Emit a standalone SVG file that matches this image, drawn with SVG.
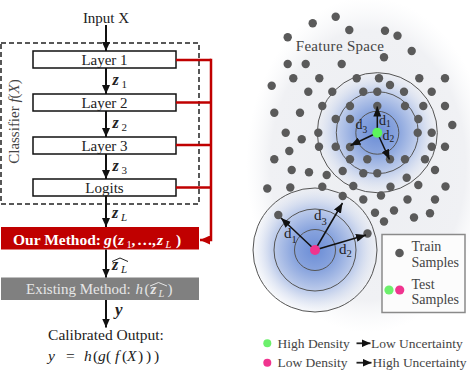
<svg xmlns="http://www.w3.org/2000/svg" width="470" height="372" viewBox="0 0 470 372">
<defs>
<style>
.t{font-family:"Liberation Serif","Times New Roman",serif;fill:#222}
.g{font-family:"Liberation Serif","Times New Roman",serif;fill:#444}
.box{fill:#fff;stroke:#111;stroke-width:1.5}
.flow{stroke:#111;stroke-width:2;fill:none}
.red{stroke:#c00000;stroke-width:2.5;fill:none}
.dist{stroke:#111;stroke-width:1.5;fill:none}
.ring{fill:none;stroke:#555;stroke-width:1}
.dot{fill:#5a5a5a}
.bz{font-weight:bold;font-style:italic}
</style>
<marker id="ah" markerUnits="userSpaceOnUse" markerWidth="9" markerHeight="8" refX="9" refY="4" orient="auto"><path d="M0,0 L9,4 L0,8 z" fill="#111"/></marker>
<marker id="ahr" markerUnits="userSpaceOnUse" markerWidth="10" markerHeight="9" refX="10" refY="4.5" orient="auto"><path d="M0,0 L10,4.5 L0,9 z" fill="#c00000"/></marker>
<marker id="ahd" markerUnits="userSpaceOnUse" markerWidth="10" markerHeight="8" refX="10" refY="4" orient="auto"><path d="M0,0 L10,4 L0,8 z" fill="#111"/></marker>
<radialGradient id="fs" cx="0.5" cy="0.5" r="0.5">
<stop offset="0" stop-color="#eceef2"/>
<stop offset="0.8" stop-color="#f0f1f4"/>
<stop offset="1" stop-color="#f6f7f9" stop-opacity="0"/>
</radialGradient>
<radialGradient id="glow" cx="0.5" cy="0.5" r="0.5">
<stop offset="0" stop-color="#6b8dd6"/>
<stop offset="0.35" stop-color="#8aa5de"/>
<stop offset="0.7" stop-color="#c3d0ec"/>
<stop offset="1" stop-color="#e6eaf3" stop-opacity="0.3"/>
</radialGradient>
</defs>
<rect width="470" height="372" fill="#fff"/>

<g id="input"><text class="t" x="106" y="22.5" font-size="15" text-anchor="middle">Input X</text></g>
<g id="classifier">
<rect x="1" y="43" width="198" height="161" fill="none" stroke="#222" stroke-width="1.5" stroke-dasharray="5 3"/>
<text class="g" font-size="15" text-anchor="middle" transform="translate(18.5,121.5) rotate(-90)" fill="#555">Classifier <tspan font-style="italic">f</tspan>(<tspan font-style="italic">X</tspan>)</text>
</g>
<g id="layer1"><rect class="box" x="33" y="51" width="143" height="17"/><text class="t" x="104.5" y="64.5" font-size="15" text-anchor="middle">Layer 1</text></g>
<g id="layer2"><rect class="box" x="33" y="94" width="143" height="17"/><text class="t" x="104.5" y="107.5" font-size="15" text-anchor="middle">Layer 2</text></g>
<g id="layer3"><rect class="box" x="33" y="137" width="143" height="17"/><text class="t" x="104.5" y="150.5" font-size="15" text-anchor="middle">Layer 3</text></g>
<g id="logits"><rect class="box" x="33" y="179" width="143" height="17"/><text class="t" x="104.5" y="192.5" font-size="15" text-anchor="middle">Logits</text></g>
<g id="our-method"><rect x="1" y="227" width="198" height="22.5" fill="#c00000"/>
<text font-family="Liberation Serif,Times New Roman,serif" font-size="15.5" fill="#fff" y="244.5"><tspan x="13" font-weight="bold">Our Method:</tspan><tspan x="104" class="bz">g</tspan><tspan x="112.5" font-weight="bold">(</tspan><tspan x="118" class="bz">z</tspan><tspan x="126.5" dy="3" font-size="10.5">1</tspan><tspan x="131.5" dy="-3" font-weight="bold">,</tspan><tspan x="137" font-weight="bold">…</tspan><tspan x="152" font-weight="bold">,</tspan><tspan x="157" class="bz">z</tspan><tspan x="165.5" dy="3" font-size="10.5" font-style="italic">L</tspan><tspan x="176" dy="-3" font-weight="bold">)</tspan></text>
</g>
<g id="existing-method"><rect x="1" y="277.5" width="198" height="22.5" fill="#808080"/>
<text font-family="Liberation Serif,Times New Roman,serif" font-size="15" fill="#e6e6e6" y="293.5"><tspan x="26">Existing Method:</tspan><tspan x="135.5" font-style="italic">h</tspan><tspan x="144.5">(</tspan><tspan x="150.5" class="bz">z</tspan><tspan x="158.5" dy="3" font-size="10.5" font-style="italic">L</tspan><tspan x="167.5" dy="-3">)</tspan></text>
<polyline points="150,286 158.5,282.5 167,286" fill="none" stroke="#e6e6e6" stroke-width="1"/>
</g>
<g id="output">
<text class="t" x="106" y="340" font-size="15.5" text-anchor="middle">Calibrated Output:</text>
<text class="t" font-size="15.5" y="361"><tspan x="48" font-style="italic">y</tspan><tspan x="66">=</tspan><tspan x="84" font-style="italic">h</tspan><tspan x="93">(</tspan><tspan x="98" font-style="italic">g</tspan><tspan x="106">(</tspan><tspan x="115" font-style="italic">f</tspan><tspan x="122">(</tspan><tspan x="127" font-style="italic">X</tspan><tspan x="138">)</tspan><tspan x="146">)</tspan><tspan x="154">)</tspan></text>
</g>

<g id="connectors">
<line class="flow" x1="106" y1="25" x2="106" y2="51" marker-end="url(#ah)"/>
<line class="flow" x1="106" y1="68" x2="106" y2="94" marker-end="url(#ah)"/>
<line class="flow" x1="106" y1="111" x2="106" y2="137" marker-end="url(#ah)"/>
<line class="flow" x1="106" y1="154" x2="106" y2="179" marker-end="url(#ah)"/>
<line class="flow" x1="106" y1="196" x2="106" y2="227" marker-end="url(#ah)"/>
<line class="flow" x1="106" y1="249.5" x2="106" y2="277.5" marker-end="url(#ah)"/>
<line class="flow" x1="106" y1="300" x2="106" y2="327.5" marker-end="url(#ah)"/>
<path class="red" d="M176,60 H211 M176,102.5 H211 M176,145 H211 M176,187.5 H211"/>
<path class="red" d="M211,58.8 V240 H200" marker-end="url(#ahr)"/>
<text class="t" font-size="16" y="84.5"><tspan x="112.5" class="bz">z</tspan><tspan x="121.5" dy="3" font-size="11">1</tspan></text>
<text class="t" font-size="16" y="127.5"><tspan x="112.5" class="bz">z</tspan><tspan x="121.5" dy="3" font-size="11">2</tspan></text>
<text class="t" font-size="16" y="170.5"><tspan x="112.5" class="bz">z</tspan><tspan x="121.5" dy="3" font-size="11">3</tspan></text>
<text class="t" font-size="16" y="217.5"><tspan x="112" class="bz">z</tspan><tspan x="121" dy="3.5" font-size="11" font-style="italic">L</tspan></text>
<text class="t" font-size="16" y="269.5"><tspan x="112" class="bz">z</tspan><tspan x="121" dy="3.5" font-size="11" font-style="italic">L</tspan></text>
<polyline points="112,261.5 120,258 128,261.5" fill="none" stroke="#222" stroke-width="1"/>
<text class="t" font-size="17" x="115" y="314.5" font-weight="bold" font-style="italic">y</text>
</g>

<g id="feature-space">
<ellipse cx="368" cy="165" rx="122" ry="168" fill="url(#fs)"/>
<text class="g" x="340" y="51" font-size="15" text-anchor="middle" fill="#555" letter-spacing="0.3">Feature Space</text>
</g>
<g id="cluster-high">
<circle cx="377.3" cy="132.7" r="60" fill="url(#glow)"/>
<circle class="ring" cx="377.3" cy="132.7" r="60"/>
<circle class="ring" cx="377.3" cy="132.7" r="41"/>
<circle class="ring" cx="377.3" cy="132.7" r="21.5"/>
</g>
<g id="cluster-low">
<circle cx="315" cy="250" r="62" fill="url(#glow)"/>
<circle class="ring" cx="315" cy="250" r="62"/>
<circle class="ring" cx="315" cy="250" r="41"/>
<circle class="ring" cx="315" cy="250" r="20.5"/>
</g>
<g id="train-samples" class="dot">
<circle cx="335.7" cy="16.7" r="4.2"/><circle cx="312.7" cy="23.3" r="4.2"/><circle cx="349.3" cy="30" r="4.2"/><circle cx="385" cy="30.7" r="4.2"/><circle cx="397.5" cy="35.7" r="4.2"/><circle cx="287.7" cy="37.3" r="4.2"/><circle cx="411.7" cy="51" r="4.2"/><circle cx="384" cy="57.3" r="4.2"/>
<circle cx="287.7" cy="64" r="4.2"/><circle cx="305.7" cy="64" r="4.2"/><circle cx="341.7" cy="64" r="4.2"/>
<circle cx="293.3" cy="78.3" r="4.2"/><circle cx="319.3" cy="78.3" r="4.2"/><circle cx="356.7" cy="78.3" r="4.2"/><circle cx="379" cy="78.3" r="4.2"/><circle cx="419.3" cy="78.3" r="4.2"/><circle cx="445" cy="78.3" r="4.2"/>
<circle cx="271.7" cy="85.7" r="4.2"/><circle cx="390" cy="85" r="4.2"/>
<circle cx="308.3" cy="91.7" r="4.2"/><circle cx="332.3" cy="91.7" r="4.2"/><circle cx="363.3" cy="91.7" r="4.2"/><circle cx="377.3" cy="91.7" r="4.2"/><circle cx="404" cy="91.7" r="4.2"/><circle cx="431.7" cy="91.7" r="4.2"/>
<circle cx="274.3" cy="112.7" r="4.2"/><circle cx="300" cy="112.7" r="4.2"/><circle cx="322.3" cy="106" r="4.2"/><circle cx="350" cy="106" r="4.2"/><circle cx="377.3" cy="106" r="4.2"/><circle cx="405" cy="106" r="4.2"/><circle cx="423.3" cy="106" r="4.2"/><circle cx="445" cy="106" r="4.2"/>
<circle cx="335.7" cy="119" r="4.2"/><circle cx="350" cy="119" r="4.2"/><circle cx="418.3" cy="119" r="4.2"/><circle cx="452.3" cy="125" r="4.2"/>
<circle cx="285.7" cy="132.7" r="4.2"/><circle cx="318.3" cy="132.7" r="4.2"/><circle cx="417.7" cy="132.7" r="4.2"/><circle cx="431.7" cy="132.7" r="4.2"/>
<circle cx="301.7" cy="139.3" r="4.2"/><circle cx="319" cy="146.7" r="4.2"/><circle cx="335.7" cy="146.7" r="4.2"/><circle cx="350" cy="147" r="4.2"/><circle cx="431.7" cy="146.7" r="4.2"/><circle cx="445" cy="146.7" r="4.2"/>
<circle cx="289.3" cy="151" r="4.2"/><circle cx="274.3" cy="159.3" r="4.2"/><circle cx="350" cy="159.3" r="4.2"/><circle cx="367.3" cy="159.3" r="4.2"/><circle cx="390" cy="159.3" r="4.2"/><circle cx="405" cy="159.3" r="4.2"/><circle cx="425" cy="159.3" r="4.2"/>
<circle cx="291.7" cy="170" r="4.2"/><circle cx="309" cy="172.3" r="4.2"/><circle cx="326.7" cy="175" r="4.2"/><circle cx="342.7" cy="171" r="4.2"/><circle cx="363.3" cy="173.3" r="4.2"/><circle cx="377.3" cy="173.3" r="4.2"/><circle cx="406.7" cy="177.7" r="4.2"/><circle cx="435" cy="170" r="4.2"/>
<circle cx="445.5" cy="186.5" r="4.2"/><circle cx="267.3" cy="188.5" r="4.2"/><circle cx="290.3" cy="187.5" r="4.2"/><circle cx="322.3" cy="186.7" r="4.2"/><circle cx="353.3" cy="186" r="4.2"/><circle cx="390.5" cy="186.7" r="4.2"/><circle cx="418.3" cy="185" r="4.2"/>
<circle cx="342.7" cy="196" r="4.2"/><circle cx="363.3" cy="199.5" r="4.2"/><circle cx="381" cy="195.5" r="4.2"/><circle cx="407.5" cy="199.5" r="4.2"/><circle cx="435" cy="199.5" r="4.2"/>
<circle cx="278.3" cy="215" r="4.2"/><circle cx="375" cy="212.7" r="4.2"/><circle cx="394" cy="210.5" r="4.2"/><circle cx="414" cy="217.5" r="4.2"/><circle cx="430" cy="213.3" r="4.2"/><circle cx="384" cy="221.5" r="4.2"/><circle cx="367.5" cy="233.5" r="4.2"/>
</g>
<g id="distance-arrows">
<line class="dist" x1="377.3" y1="132.7" x2="377.3" y2="106.5" marker-end="url(#ahd)"/>
<line class="dist" x1="377.3" y1="132.7" x2="350.5" y2="145.5" marker-end="url(#ahd)"/>
<line class="dist" x1="377.3" y1="132.7" x2="389.5" y2="159.5" marker-end="url(#ahd)"/>
<line class="dist" x1="315" y1="250" x2="281" y2="218" marker-end="url(#ahd)"/>
<line class="dist" x1="315" y1="250" x2="342.5" y2="203" marker-end="url(#ahd)"/>
<line class="dist" x1="315" y1="250" x2="366" y2="235" marker-end="url(#ahd)"/>
<text class="t" font-size="14" y="124.5"><tspan x="379">d</tspan><tspan dy="2" font-size="9.5">1</tspan></text>
<text class="t" font-size="14" y="128.5"><tspan x="355.5">d</tspan><tspan dy="4.5" font-size="9.5">3</tspan></text>
<text class="t" font-size="14" y="139.5"><tspan x="382.5">d</tspan><tspan dy="2" font-size="9.5">2</tspan></text>
<text class="t" font-size="15" y="237.5"><tspan x="284">d</tspan><tspan dy="5" font-size="10.5">1</tspan></text>
<text class="t" font-size="15" y="219.5"><tspan x="314">d</tspan><tspan dy="5" font-size="10.5">3</tspan></text>
<text class="t" font-size="15" y="254"><tspan x="339">d</tspan><tspan dy="2.5" font-size="10.5">2</tspan></text>
</g>
<g id="test-samples">
<circle cx="377.3" cy="132.7" r="5" fill="#5cf55c"/>
<circle cx="315" cy="250" r="5" fill="#f0348f"/>
</g>
<g id="legend">
<rect x="382" y="234.5" width="83" height="78" fill="#fcfcfc" stroke="#8a8a8a" stroke-width="1.5"/>
<circle cx="399.5" cy="253" r="4.3" fill="#5a5a5a"/>
<text class="g" font-size="14" x="411.5" y="251">Train</text>
<text class="g" font-size="14" x="411.5" y="266.5">Samples</text>
<circle cx="389" cy="290" r="4.6" fill="#6cf06c"/>
<circle cx="399.7" cy="290" r="4.6" fill="#f0348f"/>
<text class="g" font-size="14" x="411.5" y="288.5">Test</text>
<text class="g" font-size="14" x="411.5" y="303.5">Samples</text>
</g>
<g id="density-legend">
<circle cx="267.3" cy="343.3" r="4" fill="#6cf06c"/>
<text class="g" font-size="13.5" x="277.5" y="347.5">High Density</text>
<line x1="356.5" y1="343.3" x2="370.5" y2="343.3" stroke="#222" stroke-width="1.8" marker-end="url(#ah)"/>
<text class="g" font-size="13.5" x="371" y="347.5">Low Uncertainty</text>
<circle cx="267.3" cy="362.7" r="4" fill="#f0348f"/>
<text class="g" font-size="13.5" x="277.5" y="367">Low Density</text>
<line x1="356.5" y1="362.7" x2="371.5" y2="362.7" stroke="#222" stroke-width="1.8" marker-end="url(#ah)"/>
<text class="g" font-size="13.5" x="372.5" y="367">High Uncertainty</text>
</g>
</svg>
